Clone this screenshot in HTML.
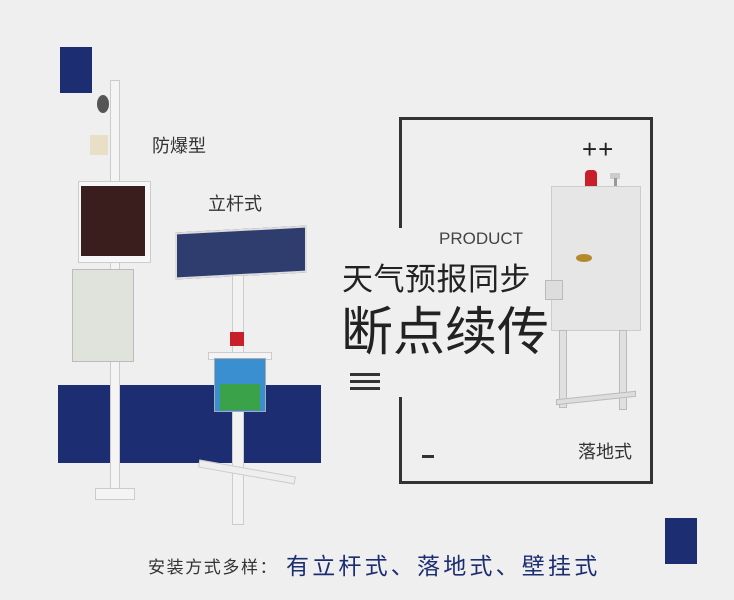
<!DOCTYPE html>
<html><head><meta charset="utf-8"><style>
*{margin:0;padding:0;box-sizing:border-box}
body{width:734px;height:600px;background:#efefef;position:relative;overflow:hidden;font-family:"Liberation Sans","Noto Sans CJK SC",sans-serif;color:#333}
.a{position:absolute}
.t{position:absolute;white-space:nowrap;line-height:1}
</style></head><body>
<div class="a" style="left:60px;top:47px;width:32px;height:46px;background:#1c2d72"></div>
<div class="a" style="left:665px;top:518px;width:32px;height:46px;background:#1c2d72"></div>
<div class="a" style="left:58px;top:385px;width:263px;height:78px;background:#1c2d72"></div>
<!-- frame -->
<div class="a" style="left:399px;top:117px;width:254px;height:3px;background:#333"></div>
<div class="a" style="left:650px;top:117px;width:3px;height:367px;background:#333"></div>
<div class="a" style="left:399px;top:481px;width:254px;height:3px;background:#333"></div>
<div class="a" style="left:399px;top:117px;width:3px;height:111px;background:#333"></div>
<div class="a" style="left:399px;top:397px;width:3px;height:86px;background:#333"></div>
<!-- cabinet right -->
<div class="a" style="left:585px;top:170px;width:12px;height:16px;background:#c8202a;border-radius:4px 4px 0 0"></div>
<div class="a" style="left:610px;top:173px;width:10px;height:6px;background:#ccc"></div>
<div class="a" style="left:614px;top:178px;width:3px;height:10px;background:#999"></div>
<div class="a" style="left:551px;top:186px;width:90px;height:145px;background:#e6e6e6;border:1px solid #ccc"></div>
<div class="a" style="left:545px;top:280px;width:18px;height:20px;background:#ddd;border:1px solid #bbb"></div>
<div class="a" style="left:559px;top:330px;width:8px;height:78px;background:#e0e0e0;border:1px solid #bbb"></div>
<div class="a" style="left:619px;top:330px;width:8px;height:80px;background:#e0e0e0;border:1px solid #bbb"></div>
<div class="a" style="left:556px;top:395px;width:80px;height:6px;background:#ddd;border:1px solid #bbb;transform:skewY(-6deg)"></div>
<div class="a" style="left:576px;top:254px;width:16px;height:8px;background:#b58a2a;border-radius:50%"></div>
<!-- pole left -->
<div class="a" style="left:110px;top:80px;width:10px;height:420px;background:#f4f4f4;border:1px solid #ccc"></div>
<div class="a" style="left:97px;top:95px;width:12px;height:18px;background:#555;border-radius:50%"></div>
<div class="a" style="left:90px;top:135px;width:18px;height:20px;background:#e9dfc7"></div>
<div class="a" style="left:78px;top:181px;width:73px;height:82px;background:#f7f7f7;border:1px solid #ccc"></div>
<div class="a" style="left:81px;top:186px;width:64px;height:70px;background:#3a1e1e"></div>
<div class="a" style="left:72px;top:269px;width:62px;height:93px;background:#dfe3db;border:1px solid #bbb"></div>
<div class="a" style="left:95px;top:488px;width:40px;height:12px;background:#f4f4f4;border:1px solid #ccc"></div>
<!-- solar -->
<div class="a" style="left:175px;top:229px;width:132px;height:47px;background:#2e3d6e;border:2px solid #ddd;transform:skewY(-3deg)"></div>
<div class="a" style="left:232px;top:275px;width:12px;height:250px;background:#f2f2f2;border:1px solid #ccc"></div>
<div class="a" style="left:230px;top:332px;width:14px;height:14px;background:#c8202a"></div>
<div class="a" style="left:208px;top:352px;width:64px;height:8px;background:#f4f4f4;border:1px solid #ccc"></div>
<div class="a" style="left:214px;top:358px;width:52px;height:54px;background:#3a8fd0;border:1px solid #aaa"></div>
<div class="a" style="left:220px;top:384px;width:40px;height:26px;background:#3aa34a"></div>
<div class="a" style="left:198px;top:468px;width:98px;height:8px;background:#eee;border:1px solid #ccc;transform:rotate(10deg)"></div>
<!-- texts -->
<div class="t" style="left:152px;top:137px;font-size:18px">防爆型</div>
<div class="t" style="left:208px;top:195px;font-size:18px">立杆式</div>
<div class="t" style="left:439px;top:230px;font-size:17px;color:#444">PRODUCT</div>
<div class="t" style="left:342px;top:264px;font-size:31px;color:#222;letter-spacing:0.5px">天气预报同步</div>
<div class="t" style="left:341px;top:307px;font-size:52px;color:#222">断点续传</div>
<div class="a" style="left:350px;top:373px;width:30px;height:3px;background:#333"></div>
<div class="a" style="left:350px;top:380px;width:30px;height:3px;background:#333"></div>
<div class="a" style="left:350px;top:387px;width:30px;height:3px;background:#333"></div>
<div class="t" style="left:582px;top:136px;font-size:26px;color:#222;letter-spacing:1px">++</div>
<div class="a" style="left:422px;top:455px;width:12px;height:3px;background:#333"></div>
<div class="t" style="left:578px;top:443px;font-size:18px">落地式</div>
<div class="t" style="left:148px;top:559px;font-size:17px;color:#333;letter-spacing:1.6px">安装方式多样：</div>
<div class="t" style="left:286px;top:555px;font-size:23px;color:#1c2d72;letter-spacing:3.2px">有立杆式、落地式、壁挂式</div>
</body></html>
